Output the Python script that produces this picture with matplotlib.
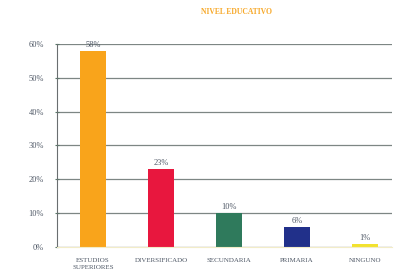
import matplotlib.pyplot as plt

categories = ["ESTUDIOS\nSUPERIORES", "DIVERSIFICADO", "SECUNDARIA", "PRIMARIA", "NINGUNO"]
values = [58, 23, 10, 6, 1]
bar_labels = ["58%", "23%", "10%", "6%", "1%"]
colors = ['#F9A41B', '#E8173E', '#2F7A5C', '#21308A', '#F2E22E']
y_ticks = [0, 10, 20, 30, 40, 50, 60]

plt.rcParams['font.family'] = ['Liberation Serif', 'DejaVu Serif']

fig = plt.figure(figsize=(3.94, 2.75), dpi=100)
ax = fig.add_axes([0.145, 0.102, 0.85, 0.738])

ax.set_axisbelow(True)
ax.grid(axis='y', color='#7d8684', linewidth=0.9)
x = range(len(values))
ax.bar(x, values, width=0.38, color=colors, zorder=2)

for i, v in enumerate(values):
    ax.text(i, v + 0.6, bar_labels[i], ha='center', va='bottom', fontsize=6, color='#4f5866')

ax.set_ylim(0, 60)
ax.set_xlim(-0.53, 4.4)
ax.set_yticks(y_ticks)
ax.set_yticklabels([f"{t}%" for t in y_ticks], fontsize=6, color='#4f5866')
ax.set_xticks(list(x))
ax.set_xticklabels(categories, fontsize=5, color='#4f5866', linespacing=1.5)
ax.tick_params(axis='y', length=3, direction='inout', color='#5a7a6a', pad=8)
ax.tick_params(axis='x', length=0, pad=8)

for side in ['top', 'right']:
    ax.spines[side].set_visible(False)
ax.spines['left'].set_color('#6a6e70')
ax.spines['bottom'].set_color('#f2ecc8')

fig.text(0.6, 0.955, "NIVEL EDUCATIVO", ha='center', va='center', fontsize=5.5,
         color='#F7A828', fontweight='bold')

fig.savefig("out.png", dpi=100)
